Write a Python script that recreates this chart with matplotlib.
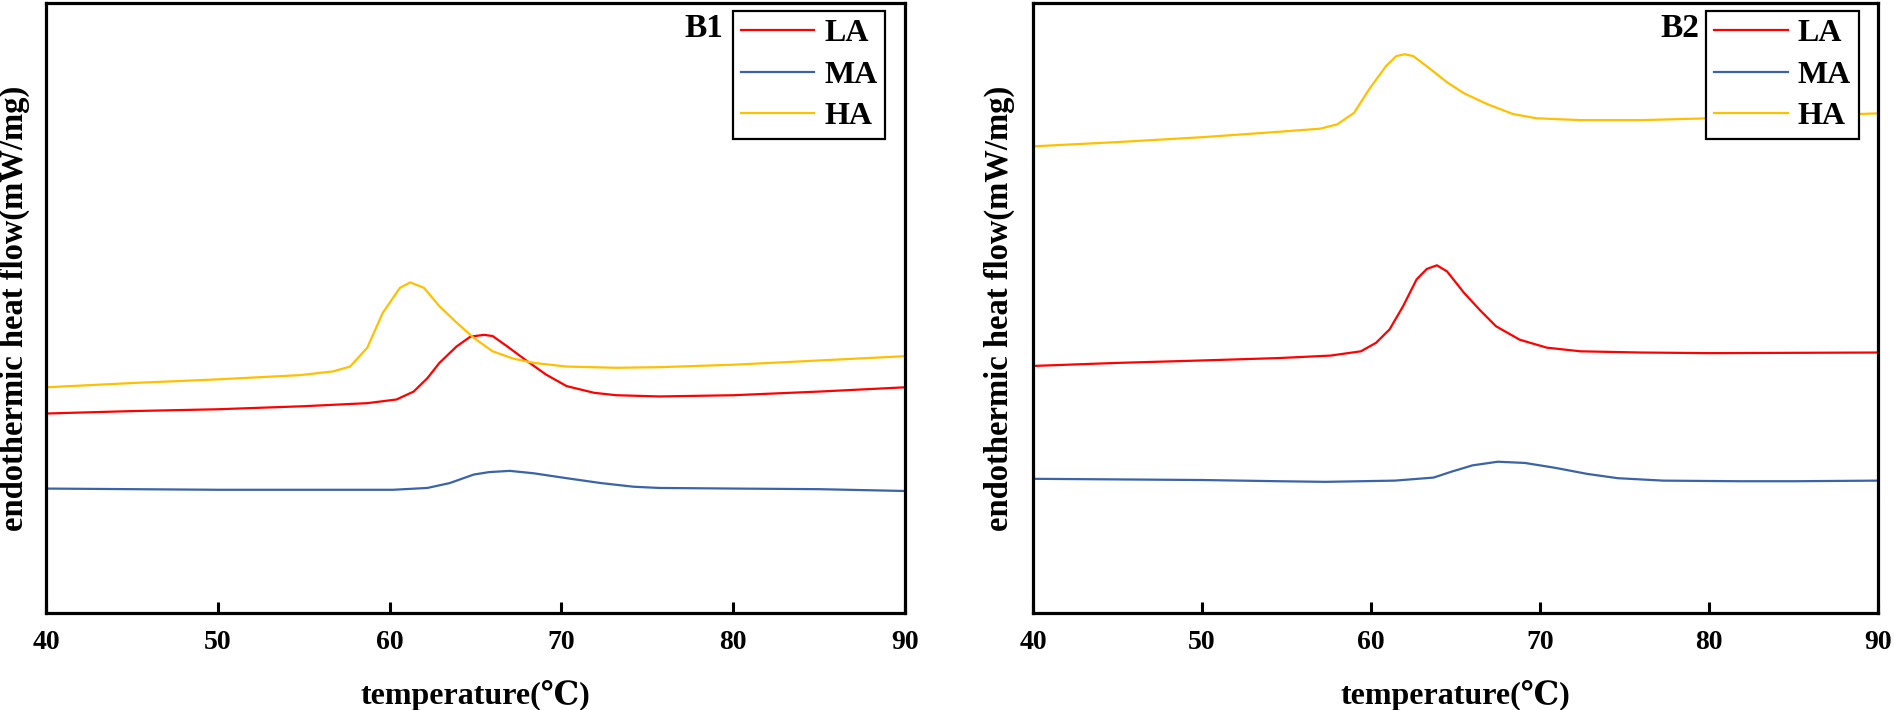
import matplotlib
matplotlib.use("Agg")
import matplotlib.pyplot as plt

plt.rcParams['font.family'] = ['Liberation Serif', 'DejaVu Serif']
plt.rcParams['font.weight'] = 'bold'

# ---------------- data (B1) ----------------
T_LA1 = [40, 45, 50, 55, 58.7, 60.4, 61.4, 62.2, 62.9, 63.9, 64.7, 65.5, 66.0, 66.8, 68.0, 69.1, 70.3, 71.9, 73.2, 75.7, 80, 85, 90]
LA1 = [32.7, 33.1, 33.4, 33.9, 34.4, 35.0, 36.3, 38.5, 41.0, 43.7, 45.3, 45.6, 45.4, 43.8, 41.3, 39.1, 37.2, 36.1, 35.7, 35.5, 35.7, 36.3, 37.0]

T_MA1 = [40, 45, 50, 55, 60.2, 62.2, 63.5, 64.9, 65.8, 67.0, 68.4, 70.3, 72.3, 74.2, 75.7, 80, 85, 90]
MA1 = [20.4, 20.3, 20.2, 20.2, 20.2, 20.5, 21.3, 22.7, 23.1, 23.3, 22.9, 22.1, 21.3, 20.7, 20.5, 20.4, 20.3, 20.0]

T_HA1 = [40, 45, 50, 54.8, 56.7, 57.7, 58.7, 59.6, 60.6, 61.2, 62.0, 62.9, 63.9, 64.9, 66.0, 67.2, 68.4, 70.3, 73.2, 75.7, 80, 85, 90]
HA1 = [37.0, 37.7, 38.3, 39.0, 39.6, 40.4, 43.5, 49.2, 53.3, 54.2, 53.3, 50.3, 47.6, 45.1, 42.9, 41.7, 41.0, 40.4, 40.2, 40.3, 40.7, 41.4, 42.1]

# ---------------- data (B2) ----------------
T_LA2 = [40, 45, 50, 54.6, 57.6, 59.4, 60.3, 61.1, 61.9, 62.7, 63.3, 63.9, 64.5, 65.5, 66.5, 67.4, 68.8, 70.4, 72.4, 76, 80, 85, 90]
LA2 = [40.5, 41.0, 41.4, 41.8, 42.2, 42.9, 44.3, 46.5, 50.3, 54.7, 56.4, 57.0, 56.0, 52.5, 49.5, 47.0, 44.8, 43.5, 42.9, 42.7, 42.6, 42.65, 42.7]

T_MA2 = [40, 45, 50, 54.6, 57.3, 61.4, 63.7, 64.8, 66.0, 67.5, 69.1, 70.9, 72.8, 74.6, 77.3, 81.8, 85, 90]
MA2 = [22.0, 21.9, 21.8, 21.6, 21.5, 21.7, 22.2, 23.2, 24.2, 24.8, 24.6, 23.8, 22.8, 22.1, 21.7, 21.6, 21.6, 21.7]

T_HA2 = [40, 45, 50, 54.6, 57.0, 58.0, 59.0, 59.9, 60.9, 61.5, 62.0, 62.5, 63.5, 64.5, 65.5, 66.9, 68.4, 69.8, 72.4, 76, 80, 85, 90]
HA2 = [76.5, 77.2, 78.0, 78.9, 79.4, 80.1, 82.0, 85.9, 89.7, 91.3, 91.6, 91.3, 89.2, 87.0, 85.2, 83.4, 81.8, 81.1, 80.8, 80.8, 81.1, 81.5, 81.9]

panels = ["B1", "B2"]
series_names = ["LA", "MA", "HA"]
colors = ["#FF0000", "#3A63A8", "#FFC000"]
xticks = [40, 50, 60, 70, 80, 90]
xlabel = "temperature(\u2103)"
ylabel = "endothermic heat flow(mW/mg)"

panel_data = [
    [(T_LA1, LA1), (T_MA1, MA1), (T_HA1, HA1)],
    [(T_LA2, LA2), (T_MA2, MA2), (T_HA2, HA2)],
]

W, H = 1894, 710
fig = plt.figure(figsize=(W / 100, H / 100), dpi=100)

axes_px = [(46, 905), (1033, 1878)]
top_px, bot_px = 3, 613
ylabel_x = [-0.019, -0.021]

for i, (name, data) in enumerate(zip(panels, panel_data)):
    l, r = axes_px[i]
    ax = fig.add_axes([l / W, 1 - bot_px / H, (r - l) / W, (bot_px - top_px) / H])
    for (t, v), lab, c in zip(data, series_names, colors):
        ax.plot(t, v, color=c, lw=1.6, label=lab)
    ax.set_xlim(40, 90)
    ax.set_ylim(0, 100)
    ax.set_xticks(xticks)
    ax.set_xticklabels([str(x) for x in xticks], fontsize=20, fontweight='bold')
    ax.set_yticks([])
    ax.tick_params(axis='x', direction='in', length=8, width=2.2, pad=12)
    for s in ax.spines.values():
        s.set_linewidth(2.3)
    ax.set_xlabel(xlabel, fontsize=23, fontweight='bold', labelpad=18)
    ax.set_ylabel(ylabel, fontsize=23.5, fontweight='bold')
    ax.yaxis.set_label_coords(ylabel_x[i], 0.5)
    ax.text(0.766, 0.959, name, transform=ax.transAxes, ha='center', va='center',
            fontsize=24, fontweight='bold')
    leg = ax.legend(loc='upper right', bbox_to_anchor=(0.977, 0.987), borderaxespad=0,
                    fancybox=False, frameon=True, edgecolor='black',
                    prop={'family': 'Liberation Serif', 'weight': 'bold', 'size': 23},
                    handlelength=2.3, handletextpad=0.3, labelspacing=0.38,
                    borderpad=0.25)
    leg.get_frame().set_linewidth(1.6)
    leg.get_frame().set_alpha(1)

fig.savefig("out.png", dpi=100)
